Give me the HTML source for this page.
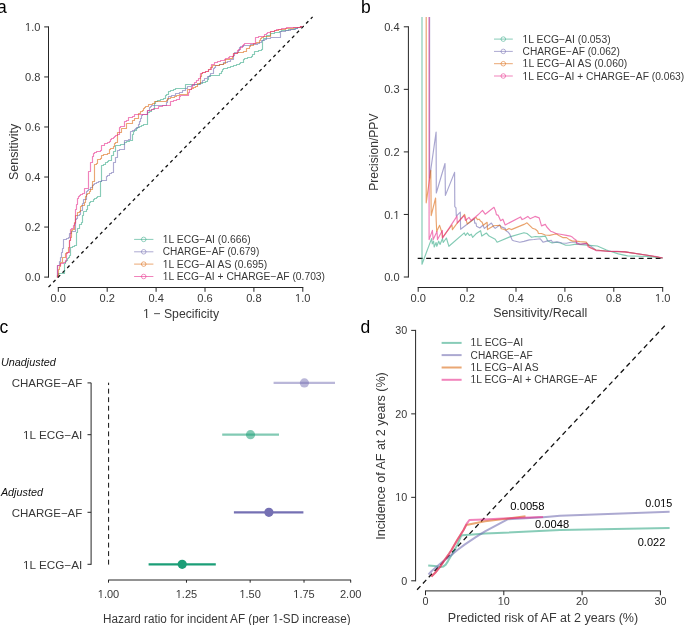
<!DOCTYPE html>
<html><head><meta charset="utf-8"><style>
html,body{margin:0;padding:0;background:#fff;}
body{width:685px;height:625px;overflow:hidden;}
svg{display:block;font-family:"Liberation Sans", sans-serif;will-change:transform;}
</style></head><body>
<svg width="685" height="625" viewBox="0 0 685 625">
<rect width="685" height="625" fill="#fff"/>
<text x="-3.00" y="12.80" font-size="17.5" fill="#000">a</text>
<text x="360.90" y="12.80" font-size="17.5" fill="#000">b</text>
<text x="-0.40" y="333.00" font-size="17.5" fill="#000">c</text>
<text x="360.40" y="332.60" font-size="17.5" fill="#000">d</text>
<line x1="48.50" y1="277.60" x2="48.50" y2="26.40" stroke="#262626" stroke-width="1"/>
<line x1="57.80" y1="287.50" x2="303.30" y2="287.50" stroke="#262626" stroke-width="1"/>
<line x1="44.20" y1="277.10" x2="48.50" y2="277.10" stroke="#262626" stroke-width="1"/>
<text x="40.40" y="281.20" font-size="11" text-anchor="end" textLength="15.4" lengthAdjust="spacingAndGlyphs" fill="#383838">0.0</text>
<line x1="58.30" y1="287.50" x2="58.30" y2="291.80" stroke="#262626" stroke-width="1"/>
<text x="58.30" y="301.80" font-size="11" text-anchor="middle" textLength="15.4" lengthAdjust="spacingAndGlyphs" fill="#383838">0.0</text>
<line x1="44.20" y1="227.06" x2="48.50" y2="227.06" stroke="#262626" stroke-width="1"/>
<text x="40.40" y="231.16" font-size="11" text-anchor="end" textLength="15.4" lengthAdjust="spacingAndGlyphs" fill="#383838">0.2</text>
<line x1="107.20" y1="287.50" x2="107.20" y2="291.80" stroke="#262626" stroke-width="1"/>
<text x="107.20" y="301.80" font-size="11" text-anchor="middle" textLength="15.4" lengthAdjust="spacingAndGlyphs" fill="#383838">0.2</text>
<line x1="44.20" y1="177.02" x2="48.50" y2="177.02" stroke="#262626" stroke-width="1"/>
<text x="40.40" y="181.12" font-size="11" text-anchor="end" textLength="15.4" lengthAdjust="spacingAndGlyphs" fill="#383838">0.4</text>
<line x1="156.10" y1="287.50" x2="156.10" y2="291.80" stroke="#262626" stroke-width="1"/>
<text x="156.10" y="301.80" font-size="11" text-anchor="middle" textLength="15.4" lengthAdjust="spacingAndGlyphs" fill="#383838">0.4</text>
<line x1="44.20" y1="126.98" x2="48.50" y2="126.98" stroke="#262626" stroke-width="1"/>
<text x="40.40" y="131.08" font-size="11" text-anchor="end" textLength="15.4" lengthAdjust="spacingAndGlyphs" fill="#383838">0.6</text>
<line x1="205.00" y1="287.50" x2="205.00" y2="291.80" stroke="#262626" stroke-width="1"/>
<text x="205.00" y="301.80" font-size="11" text-anchor="middle" textLength="15.4" lengthAdjust="spacingAndGlyphs" fill="#383838">0.6</text>
<line x1="44.20" y1="76.94" x2="48.50" y2="76.94" stroke="#262626" stroke-width="1"/>
<text x="40.40" y="81.04" font-size="11" text-anchor="end" textLength="15.4" lengthAdjust="spacingAndGlyphs" fill="#383838">0.8</text>
<line x1="253.90" y1="287.50" x2="253.90" y2="291.80" stroke="#262626" stroke-width="1"/>
<text x="253.90" y="301.80" font-size="11" text-anchor="middle" textLength="15.4" lengthAdjust="spacingAndGlyphs" fill="#383838">0.8</text>
<line x1="44.20" y1="26.90" x2="48.50" y2="26.90" stroke="#262626" stroke-width="1"/>
<text x="40.40" y="31.00" font-size="11" text-anchor="end" textLength="15.4" lengthAdjust="spacingAndGlyphs" fill="#383838">1.0</text>
<line x1="302.80" y1="287.50" x2="302.80" y2="291.80" stroke="#262626" stroke-width="1"/>
<text x="302.80" y="301.80" font-size="11" text-anchor="middle" textLength="15.4" lengthAdjust="spacingAndGlyphs" fill="#383838">1.0</text>
<text x="181.10" y="317.70" font-size="12.3" text-anchor="middle" textLength="76.0" lengthAdjust="spacingAndGlyphs" fill="#383838">1 − Specificity</text>
<text transform="translate(17.90,151.90) rotate(-90)" x="0" y="0" font-size="12.6" text-anchor="middle" textLength="56.2" lengthAdjust="spacingAndGlyphs" fill="#383838">Sensitivity</text>
<line x1="48.50" y1="287.10" x2="312.60" y2="16.90" stroke="#111" stroke-width="1.3" stroke-dasharray="3.3 3.4"/>
<polyline points="57.50,277.50 57.50,275.50 58.50,275.50 58.50,273.50 58.50,273.50 64.50,273.50 64.50,264.50 64.50,263.50 65.50,263.50 65.50,261.50 66.50,261.50 66.50,260.50 67.50,260.50 67.50,258.50 68.50,258.50 68.50,257.50 69.50,257.50 69.50,255.50 70.50,255.50 70.50,252.50 70.50,252.50 70.50,248.50 70.50,248.50 70.50,247.50 72.50,247.50 72.50,246.50 74.50,246.50 74.50,245.50 76.50,245.50 76.50,242.50 76.50,242.50 76.50,240.50 76.50,240.50 76.50,237.50 76.50,237.50 76.50,234.50 76.50,234.50 76.50,232.50 77.50,232.50 77.50,229.50 77.50,229.50 77.50,228.50 79.50,228.50 79.50,225.50 79.50,225.50 79.50,224.50 81.50,224.50 81.50,222.50 81.50,222.50 82.50,222.50 82.50,219.50 82.50,219.50 82.50,215.50 83.50,215.50 83.50,212.50 83.50,212.50 83.50,211.50 86.50,211.50 86.50,209.50 87.50,209.50 87.50,206.50 87.50,206.50 87.50,205.50 89.50,205.50 89.50,202.50 90.50,202.50 90.50,201.50 93.50,201.50 93.50,199.50 94.50,199.50 94.50,198.50 96.50,198.50 96.50,197.50 97.50,197.50 97.50,196.50 100.50,196.50 100.50,193.50 100.50,193.50 100.50,190.50 100.50,190.50 100.50,187.50 100.50,187.50 100.50,185.50 100.50,185.50 100.50,182.50 100.50,182.50 100.50,181.50 101.50,181.50 101.50,168.50 101.50,165.50 103.50,165.50 103.50,164.50 105.50,164.50 105.50,162.50 107.50,162.50 107.50,161.50 108.50,161.50 108.50,160.50 111.50,160.50 111.50,156.50 111.50,156.50 111.50,155.50 113.50,155.50 113.50,152.50 113.50,151.50 115.50,151.50 115.50,149.50 115.50,149.50 115.50,146.50 115.50,146.50 115.50,145.50 116.50,145.50 116.50,145.50 120.50,145.50 120.50,144.50 124.50,144.50 124.50,142.50 124.50,142.50 124.50,142.50 126.50,142.50 126.50,141.50 129.50,141.50 129.50,140.50 132.50,140.50 132.50,136.50 132.50,136.50 132.50,134.50 133.50,134.50 133.50,131.50 134.50,131.50 134.50,130.50 136.50,130.50 136.50,128.50 137.50,128.50 137.50,127.50 139.50,127.50 139.50,126.50 141.50,126.50 141.50,125.50 143.50,125.50 143.50,124.50 144.50,124.50 144.50,124.50 147.50,124.50 147.50,114.50 147.50,112.50 149.50,112.50 149.50,111.50 151.50,111.50 151.50,109.50 154.50,109.50 154.50,106.50 154.50,106.50 154.50,103.50 155.50,103.50 155.50,101.50 157.50,101.50 157.50,100.50 160.50,100.50 160.50,99.50 163.50,99.50 163.50,98.50 165.50,98.50 165.50,95.50 166.50,95.50 166.50,94.50 168.50,94.50 168.50,91.50 170.50,91.50 170.50,90.50 173.50,90.50 173.50,89.50 175.50,89.50 175.50,88.50 178.50,88.50 178.50,88.50 181.50,88.50 181.50,88.50 185.50,88.50 185.50,85.50 185.50,85.50 185.50,84.50 188.50,84.50 199.50,84.50 199.50,83.50 202.50,83.50 202.50,82.50 205.50,82.50 205.50,81.50 207.50,81.50 207.50,79.50 208.50,79.50 208.50,76.50 210.50,76.50 210.50,75.50 210.50,75.50 210.50,75.50 213.50,75.50 213.50,75.50 216.50,75.50 216.50,75.50 219.50,75.50 219.50,73.50 221.50,73.50 221.50,71.50 222.50,71.50 222.50,69.50 223.50,69.50 223.50,68.50 227.50,68.50 227.50,67.50 230.50,67.50 230.50,66.50 233.50,66.50 233.50,65.50 236.50,65.50 236.50,64.50 239.50,64.50 239.50,63.50 240.50,63.50 240.50,62.50 243.50,62.50 243.50,59.50 244.50,59.50 244.50,58.50 247.50,58.50 247.50,57.50 251.50,57.50 251.50,56.50 252.50,56.50 252.50,54.50 254.50,54.50 254.50,51.50 255.50,51.50 255.50,51.50 258.50,51.50 258.50,50.50 261.50,50.50 261.50,49.50 262.50,49.50 262.50,46.50 262.50,46.50 262.50,43.50 262.50,43.50 262.50,40.50 263.50,40.50 263.50,38.50 266.50,38.50 266.50,35.50 270.50,35.50 270.50,33.50 274.50,33.50 274.50,32.50 276.50,32.50 276.50,32.50 279.50,32.50 279.50,31.50 281.50,31.50 281.50,30.50 283.50,30.50 283.50,30.50 286.50,30.50 286.50,30.50 288.50,30.50 288.50,29.50 291.50,29.50 291.50,29.50 294.50,29.50 294.50,28.50 297.50,28.50 297.50,27.50 300.50,27.50 300.50,26.50 302.50,26.50" fill="none" stroke="#1b9e77" stroke-width="1.15" stroke-opacity="0.52" stroke-linejoin="round"/>
<polyline points="57.50,277.50 57.50,266.50 57.50,265.50 59.50,265.50 59.50,261.50 60.50,261.50 60.50,258.50 60.50,258.50 60.50,257.50 61.50,257.50 61.50,255.50 61.50,255.50 61.50,252.50 62.50,252.50 62.50,249.50 62.50,249.50 62.50,248.50 63.50,248.50 63.50,245.50 63.50,245.50 63.50,242.50 63.50,242.50 63.50,239.50 64.50,239.50 64.50,239.50 66.50,239.50 66.50,238.50 68.50,238.50 68.50,237.50 69.50,237.50 69.50,234.50 69.50,234.50 69.50,233.50 71.50,233.50 71.50,231.50 72.50,231.50 72.50,231.50 75.50,231.50 75.50,228.50 75.50,228.50 75.50,225.50 75.50,225.50 75.50,222.50 75.50,222.50 75.50,220.50 75.50,220.50 75.50,219.50 76.50,219.50 76.50,218.50 77.50,218.50 77.50,215.50 79.50,215.50 79.50,214.50 80.50,214.50 80.50,210.50 82.50,210.50 82.50,208.50 82.50,208.50 82.50,206.50 82.50,206.50 82.50,203.50 83.50,203.50 83.50,201.50 83.50,201.50 83.50,199.50 84.50,199.50 84.50,199.50 86.50,199.50 86.50,196.50 86.50,196.50 86.50,193.50 86.50,193.50 86.50,191.50 87.50,191.50 87.50,190.50 88.50,190.50 88.50,189.50 90.50,189.50 90.50,187.50 90.50,187.50 90.50,187.50 92.50,187.50 92.50,185.50 93.50,185.50 93.50,184.50 94.50,184.50 94.50,183.50 96.50,183.50 96.50,182.50 98.50,182.50 98.50,181.50 98.50,181.50 98.50,181.50 101.50,181.50 101.50,180.50 102.50,180.50 106.50,180.50 106.50,176.50 107.50,176.50 107.50,175.50 109.50,175.50 109.50,173.50 111.50,173.50 111.50,172.50 113.50,172.50 113.50,169.50 113.50,169.50 113.50,166.50 113.50,166.50 113.50,163.50 113.50,163.50 113.50,162.50 115.50,162.50 115.50,158.50 115.50,158.50 115.50,157.50 117.50,157.50 117.50,152.50 117.50,150.50 119.50,150.50 119.50,149.50 120.50,149.50 120.50,149.50 124.50,149.50 124.50,146.50 124.50,146.50 124.50,144.50 124.50,144.50 124.50,141.50 124.50,141.50 124.50,140.50 126.50,140.50 126.50,140.50 128.50,140.50 128.50,139.50 130.50,139.50 130.50,133.50 130.50,131.50 132.50,131.50 132.50,130.50 134.50,130.50 134.50,129.50 135.50,129.50 135.50,128.50 136.50,128.50 136.50,127.50 138.50,127.50 138.50,124.50 139.50,124.50 139.50,122.50 139.50,122.50 139.50,121.50 140.50,121.50 140.50,118.50 141.50,118.50 141.50,115.50 141.50,115.50 141.50,115.50 142.50,115.50 142.50,114.50 144.50,114.50 144.50,114.50 147.50,114.50 147.50,111.50 147.50,111.50 147.50,110.50 149.50,110.50 149.50,107.50 150.50,107.50 150.50,106.50 151.50,106.50 151.50,105.50 155.50,105.50 158.50,105.50 158.50,105.50 161.50,105.50 161.50,105.50 164.50,105.50 164.50,105.50 166.50,105.50 166.50,102.50 167.50,102.50 167.50,99.50 168.50,99.50 168.50,97.50 168.50,97.50 168.50,96.50 171.50,96.50 171.50,95.50 175.50,95.50 175.50,93.50 179.50,93.50 179.50,92.50 182.50,92.50 182.50,90.50 185.50,90.50 185.50,88.50 187.50,88.50 187.50,86.50 188.50,86.50 191.50,86.50 191.50,85.50 194.50,85.50 194.50,84.50 196.50,84.50 196.50,84.50 200.50,84.50 200.50,82.50 202.50,82.50 202.50,80.50 204.50,80.50 204.50,78.50 207.50,78.50 207.50,76.50 209.50,76.50 209.50,75.50 210.50,75.50 210.50,73.50 213.50,73.50 213.50,71.50 213.50,71.50 213.50,68.50 214.50,68.50 214.50,67.50 215.50,67.50 215.50,65.50 219.50,65.50 219.50,64.50 223.50,64.50 223.50,62.50 227.50,62.50 227.50,61.50 230.50,61.50 230.50,59.50 233.50,59.50 233.50,57.50 233.50,57.50 233.50,55.50 234.50,55.50 234.50,53.50 234.50,53.50 234.50,52.50 238.50,52.50 238.50,50.50 239.50,50.50 239.50,47.50 240.50,47.50 240.50,46.50 241.50,46.50 241.50,46.50 243.50,46.50 243.50,45.50 246.50,45.50 246.50,45.50 248.50,45.50 248.50,45.50 250.50,45.50 250.50,44.50 252.50,44.50 252.50,44.50 255.50,44.50 255.50,44.50 257.50,44.50 257.50,43.50 259.50,43.50 259.50,42.50 261.50,42.50 261.50,40.50 261.50,40.50 261.50,40.50 264.50,40.50 264.50,39.50 266.50,39.50 266.50,38.50 270.50,38.50 270.50,37.50 273.50,37.50 273.50,37.50 276.50,37.50 276.50,37.50 280.50,37.50 280.50,34.50 280.50,34.50 280.50,32.50 280.50,32.50 280.50,31.50 282.50,31.50 282.50,31.50 285.50,31.50 285.50,30.50 287.50,30.50 287.50,30.50 290.50,30.50 290.50,29.50 293.50,29.50 293.50,29.50 295.50,29.50 295.50,28.50 297.50,28.50 297.50,27.50 300.50,27.50 300.50,26.50 302.50,26.50" fill="none" stroke="#7570b3" stroke-width="1.15" stroke-opacity="0.6" stroke-linejoin="round"/>
<polyline points="57.50,277.50 57.50,275.50 58.50,275.50 58.50,272.50 58.50,272.50 58.50,269.50 59.50,269.50 59.50,268.50 59.50,268.50 59.50,266.50 60.50,266.50 60.50,263.50 60.50,263.50 60.50,262.50 62.50,262.50 62.50,258.50 62.50,258.50 62.50,257.50 65.50,257.50 65.50,255.50 65.50,255.50 65.50,253.50 66.50,253.50 66.50,252.50 68.50,252.50 68.50,249.50 68.50,249.50 68.50,247.50 69.50,247.50 69.50,244.50 69.50,244.50 69.50,242.50 69.50,242.50 69.50,240.50 70.50,240.50 70.50,237.50 71.50,237.50 71.50,234.50 71.50,234.50 71.50,230.50 72.50,230.50 72.50,229.50 74.50,229.50 74.50,225.50 74.50,225.50 74.50,222.50 75.50,222.50 75.50,219.50 75.50,219.50 75.50,216.50 75.50,216.50 75.50,215.50 77.50,215.50 77.50,213.50 77.50,213.50 77.50,212.50 79.50,212.50 79.50,211.50 80.50,211.50 80.50,208.50 80.50,208.50 80.50,206.50 81.50,206.50 81.50,205.50 84.50,205.50 84.50,202.50 85.50,202.50 85.50,199.50 85.50,199.50 85.50,196.50 86.50,196.50 86.50,194.50 87.50,194.50 87.50,193.50 89.50,193.50 89.50,191.50 90.50,191.50 90.50,189.50 92.50,189.50 92.50,187.50 92.50,187.50 92.50,184.50 92.50,184.50 92.50,182.50 92.50,182.50 92.50,181.50 94.50,181.50 94.50,165.50 94.50,164.50 96.50,164.50 96.50,163.50 97.50,163.50 97.50,160.50 97.50,160.50 97.50,159.50 100.50,159.50 100.50,158.50 101.50,158.50 101.50,155.50 103.50,155.50 103.50,154.50 105.50,154.50 105.50,154.50 107.50,154.50 107.50,153.50 109.50,153.50 109.50,149.50 109.50,149.50 110.50,149.50 110.50,148.50 113.50,148.50 113.50,146.50 114.50,146.50 114.50,143.50 115.50,143.50 115.50,142.50 117.50,142.50 117.50,140.50 117.50,140.50 117.50,137.50 117.50,137.50 117.50,135.50 117.50,135.50 117.50,132.50 121.50,132.50 121.50,129.50 121.50,129.50 121.50,128.50 123.50,128.50 123.50,128.50 126.50,128.50 126.50,125.50 126.50,125.50 126.50,123.50 126.50,123.50 126.50,123.50 129.50,123.50 129.50,123.50 132.50,123.50 132.50,121.50 132.50,121.50 132.50,120.50 134.50,120.50 134.50,118.50 134.50,118.50 134.50,118.50 138.50,118.50 138.50,114.50 138.50,113.50 140.50,113.50 140.50,111.50 142.50,111.50 142.50,110.50 143.50,110.50 143.50,108.50 144.50,108.50 144.50,107.50 145.50,107.50 145.50,106.50 148.50,106.50 148.50,104.50 149.50,104.50 149.50,104.50 152.50,104.50 152.50,103.50 154.50,103.50 154.50,101.50 155.50,101.50 155.50,101.50 157.50,101.50 157.50,101.50 160.50,101.50 166.50,101.50 166.50,100.50 167.50,100.50 167.50,98.50 170.50,98.50 170.50,97.50 174.50,97.50 174.50,96.50 176.50,96.50 176.50,95.50 179.50,95.50 179.50,94.50 183.50,94.50 183.50,94.50 187.50,94.50 187.50,90.50 187.50,90.50 187.50,89.50 191.50,89.50 191.50,88.50 193.50,88.50 193.50,87.50 195.50,87.50 195.50,86.50 197.50,86.50 197.50,84.50 197.50,83.50 200.50,83.50 200.50,79.50 200.50,79.50 200.50,76.50 201.50,76.50 201.50,73.50 202.50,73.50 202.50,72.50 205.50,72.50 205.50,71.50 208.50,71.50 208.50,69.50 210.50,69.50 210.50,67.50 212.50,67.50 212.50,65.50 216.50,65.50 216.50,65.50 219.50,65.50 219.50,64.50 223.50,64.50 223.50,63.50 225.50,63.50 225.50,59.50 229.50,59.50 229.50,58.50 232.50,58.50 232.50,56.50 233.50,56.50 233.50,53.50 234.50,53.50 234.50,53.50 237.50,53.50 237.50,52.50 239.50,52.50 239.50,52.50 243.50,52.50 243.50,51.50 246.50,51.50 246.50,48.50 246.50,48.50 246.50,48.50 249.50,48.50 249.50,46.50 250.50,46.50 250.50,45.50 253.50,45.50 253.50,43.50 256.50,43.50 256.50,42.50 259.50,42.50 259.50,40.50 260.50,40.50 260.50,38.50 261.50,38.50 261.50,37.50 263.50,37.50 263.50,36.50 266.50,36.50 266.50,36.50 270.50,36.50 270.50,33.50 270.50,33.50 270.50,31.50 274.50,31.50 274.50,30.50 278.50,30.50 278.50,29.50 281.50,29.50 281.50,29.50 285.50,29.50 285.50,28.50 287.50,28.50 287.50,28.50 290.50,28.50 290.50,28.50 293.50,28.50 293.50,27.50 295.50,27.50 295.50,27.50 297.50,27.50 297.50,27.50 300.50,27.50 300.50,26.50 302.50,26.50" fill="none" stroke="#d95f02" stroke-width="1.15" stroke-opacity="0.55" stroke-linejoin="round"/>
<polyline points="57.50,277.50 57.50,266.50 57.50,265.50 60.50,265.50 60.50,263.50 63.50,263.50 63.50,262.50 65.50,262.50 65.50,260.50 66.50,260.50 66.50,258.50 66.50,258.50 66.50,256.50 66.50,256.50 66.50,253.50 67.50,253.50 67.50,252.50 69.50,252.50 69.50,249.50 69.50,249.50 69.50,246.50 69.50,246.50 69.50,243.50 69.50,243.50 69.50,240.50 70.50,240.50 70.50,237.50 70.50,237.50 70.50,234.50 70.50,234.50 70.50,232.50 70.50,232.50 70.50,229.50 71.50,229.50 71.50,228.50 73.50,228.50 73.50,225.50 74.50,225.50 74.50,223.50 74.50,223.50 74.50,223.50 75.50,223.50 75.50,220.50 75.50,220.50 75.50,217.50 75.50,217.50 75.50,215.50 75.50,215.50 75.50,212.50 75.50,212.50 75.50,210.50 75.50,210.50 75.50,209.50 76.50,209.50 76.50,207.50 76.50,207.50 76.50,204.50 77.50,204.50 77.50,201.50 77.50,201.50 77.50,199.50 77.50,199.50 77.50,198.50 78.50,198.50 78.50,196.50 79.50,196.50 79.50,195.50 80.50,195.50 80.50,194.50 82.50,194.50 82.50,193.50 84.50,193.50 84.50,189.50 84.50,189.50 84.50,188.50 86.50,188.50 86.50,188.50 88.50,188.50 88.50,185.50 88.50,185.50 88.50,182.50 88.50,182.50 88.50,179.50 88.50,179.50 88.50,176.50 88.50,176.50 88.50,174.50 88.50,174.50 88.50,171.50 88.50,171.50 88.50,171.50 90.50,171.50 90.50,162.50 90.50,162.50 92.50,162.50 92.50,159.50 92.50,159.50 92.50,157.50 92.50,157.50 92.50,156.50 93.50,156.50 93.50,153.50 94.50,153.50 94.50,152.50 96.50,152.50 96.50,151.50 97.50,151.50 97.50,151.50 100.50,151.50 100.50,150.50 101.50,150.50 101.50,147.50 101.50,147.50 101.50,145.50 101.50,145.50 101.50,145.50 104.50,145.50 104.50,143.50 105.50,143.50 105.50,143.50 107.50,143.50 107.50,142.50 109.50,142.50 109.50,141.50 110.50,141.50 110.50,139.50 111.50,139.50 111.50,138.50 113.50,138.50 113.50,137.50 114.50,137.50 114.50,136.50 115.50,136.50 115.50,135.50 117.50,135.50 117.50,134.50 119.50,134.50 119.50,127.50 120.50,127.50 120.50,126.50 124.50,126.50 124.50,122.50 124.50,122.50 124.50,121.50 126.50,121.50 126.50,120.50 128.50,120.50 128.50,117.50 130.50,117.50 130.50,117.50 132.50,117.50 132.50,116.50 134.50,116.50 134.50,114.50 136.50,114.50 136.50,114.50 139.50,114.50 147.50,114.50 147.50,112.50 147.50,112.50 147.50,110.50 151.50,110.50 151.50,109.50 153.50,109.50 153.50,108.50 155.50,108.50 155.50,108.50 158.50,108.50 158.50,106.50 159.50,106.50 159.50,106.50 162.50,106.50 162.50,105.50 164.50,105.50 164.50,105.50 166.50,105.50 166.50,105.50 170.50,105.50 170.50,101.50 170.50,101.50 170.50,101.50 173.50,101.50 173.50,100.50 176.50,100.50 176.50,99.50 179.50,99.50 179.50,96.50 180.50,96.50 180.50,95.50 182.50,95.50 182.50,95.50 185.50,95.50 185.50,95.50 188.50,95.50 188.50,92.50 189.50,92.50 189.50,89.50 191.50,89.50 191.50,87.50 192.50,87.50 192.50,84.50 194.50,84.50 194.50,82.50 196.50,82.50 196.50,80.50 198.50,80.50 198.50,78.50 200.50,78.50 200.50,75.50 200.50,73.50 202.50,73.50 202.50,72.50 205.50,72.50 205.50,71.50 208.50,71.50 208.50,69.50 211.50,69.50 211.50,64.50 211.50,64.50 214.50,64.50 214.50,62.50 217.50,62.50 217.50,61.50 220.50,61.50 220.50,60.50 221.50,60.50 224.50,60.50 224.50,59.50 225.50,59.50 225.50,58.50 228.50,58.50 228.50,57.50 229.50,57.50 229.50,56.50 233.50,56.50 233.50,53.50 234.50,53.50 234.50,53.50 237.50,53.50 237.50,50.50 238.50,50.50 238.50,49.50 240.50,49.50 240.50,47.50 242.50,47.50 242.50,45.50 243.50,45.50 243.50,44.50 244.50,44.50 244.50,43.50 247.50,43.50 247.50,43.50 250.50,43.50 250.50,43.50 252.50,43.50 255.50,43.50 255.50,40.50 255.50,40.50 255.50,38.50 255.50,38.50 255.50,37.50 258.50,37.50 258.50,36.50 261.50,36.50 261.50,36.50 264.50,36.50 264.50,34.50 266.50,34.50 266.50,33.50 267.50,33.50 267.50,32.50 270.50,32.50 270.50,31.50 274.50,31.50 274.50,30.50 276.50,30.50 276.50,29.50 278.50,29.50 278.50,29.50 281.50,29.50 281.50,28.50 283.50,28.50 283.50,28.50 286.50,28.50 286.50,27.50 289.50,27.50 289.50,27.50 293.50,27.50 293.50,27.50 295.50,27.50 295.50,27.50 297.50,27.50 297.50,27.50 300.50,27.50 300.50,26.50 302.50,26.50" fill="none" stroke="#e7298a" stroke-width="1.15" stroke-opacity="0.58" stroke-linejoin="round"/>
<line x1="134.10" y1="239.40" x2="153.40" y2="239.40" stroke="#1b9e77" stroke-width="1.0" stroke-opacity="0.52"/>
<circle cx="143.70" cy="239.40" r="2.3" fill="none" stroke="#1b9e77" stroke-opacity="0.52" stroke-width="0.9"/>
<text x="162.80" y="242.95" font-size="10.0" textLength="87.8" lengthAdjust="spacingAndGlyphs" fill="#383838">1L ECG−AI (0.666)</text>
<line x1="134.10" y1="251.80" x2="153.40" y2="251.80" stroke="#7570b3" stroke-width="1.0" stroke-opacity="0.6"/>
<circle cx="143.70" cy="251.80" r="2.3" fill="none" stroke="#7570b3" stroke-opacity="0.6" stroke-width="0.9"/>
<text x="162.80" y="255.35" font-size="10.0" textLength="96.5" lengthAdjust="spacingAndGlyphs" fill="#383838">CHARGE−AF (0.679)</text>
<line x1="134.10" y1="264.10" x2="153.40" y2="264.10" stroke="#d95f02" stroke-width="1.0" stroke-opacity="0.55"/>
<circle cx="143.70" cy="264.10" r="2.3" fill="none" stroke="#d95f02" stroke-opacity="0.55" stroke-width="0.9"/>
<text x="162.80" y="267.65" font-size="10.0" textLength="104.4" lengthAdjust="spacingAndGlyphs" fill="#383838">1L ECG−AI AS (0.695)</text>
<line x1="134.10" y1="276.50" x2="153.40" y2="276.50" stroke="#e7298a" stroke-width="1.0" stroke-opacity="0.58"/>
<circle cx="143.70" cy="276.50" r="2.3" fill="none" stroke="#e7298a" stroke-opacity="0.58" stroke-width="0.9"/>
<text x="162.80" y="280.05" font-size="10.0" textLength="162.2" lengthAdjust="spacingAndGlyphs" fill="#383838">1L ECG−AI + CHARGE−AF (0.703)</text>
<line x1="408.40" y1="277.50" x2="408.40" y2="26.30" stroke="#262626" stroke-width="1"/>
<line x1="417.70" y1="287.50" x2="663.20" y2="287.50" stroke="#262626" stroke-width="1"/>
<line x1="403.80" y1="277.00" x2="408.40" y2="277.00" stroke="#262626" stroke-width="1"/>
<text x="399.60" y="281.10" font-size="11" text-anchor="end" textLength="15.4" lengthAdjust="spacingAndGlyphs" fill="#383838">0.0</text>
<line x1="403.80" y1="214.45" x2="408.40" y2="214.45" stroke="#262626" stroke-width="1"/>
<text x="399.60" y="218.55" font-size="11" text-anchor="end" textLength="15.4" lengthAdjust="spacingAndGlyphs" fill="#383838">0.1</text>
<line x1="403.80" y1="151.90" x2="408.40" y2="151.90" stroke="#262626" stroke-width="1"/>
<text x="399.60" y="156.00" font-size="11" text-anchor="end" textLength="15.4" lengthAdjust="spacingAndGlyphs" fill="#383838">0.2</text>
<line x1="403.80" y1="89.35" x2="408.40" y2="89.35" stroke="#262626" stroke-width="1"/>
<text x="399.60" y="93.45" font-size="11" text-anchor="end" textLength="15.4" lengthAdjust="spacingAndGlyphs" fill="#383838">0.3</text>
<line x1="403.80" y1="26.80" x2="408.40" y2="26.80" stroke="#262626" stroke-width="1"/>
<text x="399.60" y="30.90" font-size="11" text-anchor="end" textLength="15.4" lengthAdjust="spacingAndGlyphs" fill="#383838">0.4</text>
<line x1="418.20" y1="287.50" x2="418.20" y2="291.80" stroke="#262626" stroke-width="1"/>
<text x="418.20" y="301.60" font-size="11" text-anchor="middle" textLength="15.4" lengthAdjust="spacingAndGlyphs" fill="#383838">0.0</text>
<line x1="467.10" y1="287.50" x2="467.10" y2="291.80" stroke="#262626" stroke-width="1"/>
<text x="467.10" y="301.60" font-size="11" text-anchor="middle" textLength="15.4" lengthAdjust="spacingAndGlyphs" fill="#383838">0.2</text>
<line x1="516.00" y1="287.50" x2="516.00" y2="291.80" stroke="#262626" stroke-width="1"/>
<text x="516.00" y="301.60" font-size="11" text-anchor="middle" textLength="15.4" lengthAdjust="spacingAndGlyphs" fill="#383838">0.4</text>
<line x1="564.90" y1="287.50" x2="564.90" y2="291.80" stroke="#262626" stroke-width="1"/>
<text x="564.90" y="301.60" font-size="11" text-anchor="middle" textLength="15.4" lengthAdjust="spacingAndGlyphs" fill="#383838">0.6</text>
<line x1="613.80" y1="287.50" x2="613.80" y2="291.80" stroke="#262626" stroke-width="1"/>
<text x="613.80" y="301.60" font-size="11" text-anchor="middle" textLength="15.4" lengthAdjust="spacingAndGlyphs" fill="#383838">0.8</text>
<line x1="662.70" y1="287.50" x2="662.70" y2="291.80" stroke="#262626" stroke-width="1"/>
<text x="662.70" y="301.60" font-size="11" text-anchor="middle" textLength="15.4" lengthAdjust="spacingAndGlyphs" fill="#383838">1.0</text>
<text x="540.20" y="316.90" font-size="12.3" text-anchor="middle" textLength="94.1" lengthAdjust="spacingAndGlyphs" fill="#383838">Sensitivity/Recall</text>
<text transform="translate(377.90,152.20) rotate(-90)" x="0" y="0" font-size="12.6" text-anchor="middle" textLength="77.3" lengthAdjust="spacingAndGlyphs" fill="#383838">Precision/PPV</text>
<line x1="417.70" y1="258.30" x2="663.00" y2="258.30" stroke="#111" stroke-width="1.3" stroke-dasharray="4.9 3.6"/>
<polyline points="422.00,17.00 422.00,264.20 431.60,238.60 432.30,243.80 433.60,241.20 434.20,247.00 436.10,242.50 436.80,246.30 438.70,241.20 440.00,244.40 442.50,238.60 443.20,242.50 446.40,238.00 448.90,246.30 464.30,232.90 465.60,235.40 467.50,232.90 469.40,235.40 471.30,234.20 472.60,237.40 476.00,233.80 480.60,230.70 481.80,236.10 486.40,233.00 489.10,236.10 495.20,239.20 497.10,242.20 509.80,236.90 524.00,232.70 527.00,233.50 529.30,235.40 531.60,237.30 535.40,236.50 539.20,236.90 545.30,236.10 546.80,238.80 547.50,240.70 552.10,243.00 556.60,242.20 560.40,243.00 565.80,245.20 569.60,245.20 576.00,244.10 589.50,245.40 597.30,246.00 606.50,250.00 618.40,253.90 627.60,255.90 647.30,256.50 662.60,258.00" fill="none" stroke="#1b9e77" stroke-width="1.15" stroke-opacity="0.55" stroke-linejoin="round"/>
<polyline points="429.60,17.00 429.60,178.00 436.10,132.10 436.30,193.00 445.00,163.50 445.40,195.40 454.60,172.40 454.80,206.60 456.00,207.90 456.30,216.10 460.30,212.20 460.60,229.30 474.30,218.80 474.70,223.10 476.00,223.00 476.50,226.20 479.80,228.00 482.90,225.30 484.40,228.40 491.40,223.00 493.70,226.90 495.20,228.40 499.80,225.00 501.30,226.90 505.20,228.40 506.30,231.10 508.30,232.30 509.80,234.20 512.10,239.90 513.60,240.70 519.80,242.20 524.00,241.40 529.30,239.90 533.90,239.50 540.30,238.80 543.00,242.20 546.80,241.10 551.30,240.30 552.50,242.20 557.40,241.80 562.00,243.00 566.50,243.30 571.10,242.20 576.00,242.20 580.00,244.30 586.80,243.40 596.00,250.00 607.80,251.30 625.00,251.90 647.30,255.20 662.60,258.00" fill="none" stroke="#7570b3" stroke-width="1.15" stroke-opacity="0.63" stroke-linejoin="round"/>
<polyline points="426.20,17.00 426.20,202.80 430.80,170.40 431.20,215.60 435.60,198.00 436.20,220.70 436.70,231.40 439.60,225.30 441.90,232.50 442.40,237.60 452.00,225.00 452.40,229.70 457.20,223.10 464.60,214.40 467.30,224.00 476.00,217.40 477.50,219.60 479.10,219.20 480.60,221.10 482.10,222.30 483.30,225.30 487.10,222.30 487.50,229.60 493.70,225.70 499.80,225.30 501.30,228.80 503.60,229.20 506.00,230.30 509.00,228.40 511.30,229.60 524.00,224.40 527.00,222.80 529.30,225.10 532.40,228.20 535.40,229.30 537.70,231.20 538.40,233.50 541.50,233.50 545.30,235.00 549.80,235.40 554.40,234.20 556.60,233.90 558.90,235.40 562.70,237.60 566.50,237.60 569.60,239.90 572.60,241.10 576.00,241.10 580.00,241.60 586.20,242.10 588.10,244.70 589.50,247.30 596.00,250.00 607.80,251.30 625.00,251.90 647.30,255.20 662.60,258.00" fill="none" stroke="#d95f02" stroke-width="1.15" stroke-opacity="0.5800000000000001" stroke-linejoin="round"/>
<polyline points="429.00,17.00 429.10,239.60 432.40,230.40 433.20,239.60 437.00,231.40 437.50,239.60 442.40,230.40 442.50,238.10 457.00,216.10 457.20,223.10 464.20,215.70 465.50,220.50 469.00,217.40 471.00,220.50 476.00,216.50 478.00,214.80 482.50,210.40 485.20,214.20 494.00,207.30 495.60,211.10 496.40,214.60 498.30,215.40 500.60,220.70 502.90,219.20 505.20,225.00 520.50,216.90 522.10,219.60 524.00,218.70 527.80,216.40 530.10,218.70 535.00,216.40 539.20,217.90 540.30,221.70 541.50,225.90 545.30,224.40 546.80,227.00 550.60,231.20 552.90,232.00 555.90,233.50 560.40,234.20 566.50,235.40 570.30,236.10 572.60,237.30 574.10,238.80 576.00,239.90 576.70,243.60 580.00,244.30 586.80,243.40 588.10,246.70 596.00,250.60 607.80,251.30 617.00,251.30 625.00,251.90 634.10,253.20 647.30,255.20 656.50,256.50 662.60,258.00" fill="none" stroke="#e7298a" stroke-width="1.15" stroke-opacity="0.61" stroke-linejoin="round"/>
<line x1="494.00" y1="39.10" x2="512.80" y2="39.10" stroke="#1b9e77" stroke-width="1.0" stroke-opacity="0.52"/>
<circle cx="503.30" cy="39.10" r="2.3" fill="none" stroke="#1b9e77" stroke-opacity="0.52" stroke-width="0.9"/>
<text x="522.60" y="42.65" font-size="10.0" textLength="88.0" lengthAdjust="spacingAndGlyphs" fill="#383838">1L ECG−AI (0.053)</text>
<line x1="494.00" y1="51.40" x2="512.80" y2="51.40" stroke="#7570b3" stroke-width="1.0" stroke-opacity="0.6"/>
<circle cx="503.30" cy="51.40" r="2.3" fill="none" stroke="#7570b3" stroke-opacity="0.6" stroke-width="0.9"/>
<text x="522.60" y="54.95" font-size="10.0" textLength="97.3" lengthAdjust="spacingAndGlyphs" fill="#383838">CHARGE−AF (0.062)</text>
<line x1="494.00" y1="63.70" x2="512.80" y2="63.70" stroke="#d95f02" stroke-width="1.0" stroke-opacity="0.55"/>
<circle cx="503.30" cy="63.70" r="2.3" fill="none" stroke="#d95f02" stroke-opacity="0.55" stroke-width="0.9"/>
<text x="522.60" y="67.25" font-size="10.0" textLength="104.6" lengthAdjust="spacingAndGlyphs" fill="#383838">1L ECG−AI AS (0.060)</text>
<line x1="494.00" y1="76.00" x2="512.80" y2="76.00" stroke="#e7298a" stroke-width="1.0" stroke-opacity="0.58"/>
<circle cx="503.30" cy="76.00" r="2.3" fill="none" stroke="#e7298a" stroke-opacity="0.58" stroke-width="0.9"/>
<text x="522.60" y="79.55" font-size="10.0" textLength="161.6" lengthAdjust="spacingAndGlyphs" fill="#383838">1L ECG−AI + CHARGE−AF (0.063)</text>
<line x1="91.10" y1="382.80" x2="91.10" y2="564.80" stroke="#262626" stroke-width="1"/>
<line x1="87.50" y1="382.90" x2="91.10" y2="382.90" stroke="#262626" stroke-width="1"/>
<text x="82.30" y="387.10" font-size="11" text-anchor="end" textLength="70.6" lengthAdjust="spacingAndGlyphs" fill="#383838">CHARGE−AF</text>
<line x1="87.50" y1="434.70" x2="91.10" y2="434.70" stroke="#262626" stroke-width="1"/>
<text x="82.30" y="438.90" font-size="11" text-anchor="end" textLength="59.2" lengthAdjust="spacingAndGlyphs" fill="#383838">1L ECG−AI</text>
<line x1="87.50" y1="512.30" x2="91.10" y2="512.30" stroke="#262626" stroke-width="1"/>
<text x="82.30" y="516.50" font-size="11" text-anchor="end" textLength="70.6" lengthAdjust="spacingAndGlyphs" fill="#383838">CHARGE−AF</text>
<line x1="87.50" y1="564.30" x2="91.10" y2="564.30" stroke="#262626" stroke-width="1"/>
<text x="82.30" y="568.50" font-size="11" text-anchor="end" textLength="59.2" lengthAdjust="spacingAndGlyphs" fill="#383838">1L ECG−AI</text>
<text x="0.90" y="366.20" font-size="11" textLength="54.8" lengthAdjust="spacingAndGlyphs" fill="#111" font-style="italic">Unadjusted</text>
<text x="0.90" y="496.40" font-size="11" textLength="42.0" lengthAdjust="spacingAndGlyphs" fill="#111" font-style="italic">Adjusted</text>
<line x1="108.60" y1="564.60" x2="108.60" y2="382.70" stroke="#111" stroke-width="1.0" stroke-dasharray="4.9 3.65"/>
<line x1="108.20" y1="580.00" x2="350.99" y2="580.00" stroke="#262626" stroke-width="1"/>
<line x1="108.50" y1="580.00" x2="108.50" y2="582.70" stroke="#262626" stroke-width="1"/>
<text x="108.50" y="597.50" font-size="11" text-anchor="middle" textLength="21.5" lengthAdjust="spacingAndGlyphs" fill="#383838">1.00</text>
<line x1="186.47" y1="580.00" x2="186.47" y2="582.70" stroke="#262626" stroke-width="1"/>
<text x="186.47" y="597.50" font-size="11" text-anchor="middle" textLength="21.5" lengthAdjust="spacingAndGlyphs" fill="#383838">1.25</text>
<line x1="250.17" y1="580.00" x2="250.17" y2="582.70" stroke="#262626" stroke-width="1"/>
<text x="250.17" y="597.50" font-size="11" text-anchor="middle" textLength="21.5" lengthAdjust="spacingAndGlyphs" fill="#383838">1.50</text>
<line x1="304.03" y1="580.00" x2="304.03" y2="582.70" stroke="#262626" stroke-width="1"/>
<text x="304.03" y="597.50" font-size="11" text-anchor="middle" textLength="21.5" lengthAdjust="spacingAndGlyphs" fill="#383838">1.75</text>
<line x1="350.69" y1="580.00" x2="350.69" y2="582.70" stroke="#262626" stroke-width="1"/>
<text x="350.69" y="597.50" font-size="11" text-anchor="middle" textLength="21.5" lengthAdjust="spacingAndGlyphs" fill="#383838">2.00</text>
<text x="226.80" y="622.80" font-size="12" text-anchor="middle" textLength="247.5" lengthAdjust="spacingAndGlyphs" fill="#383838">Hazard ratio for incident AF (per 1-SD increase)</text>
<line x1="273.60" y1="382.90" x2="335.00" y2="382.90" stroke="#7570b3" stroke-width="2.2" stroke-opacity="0.5"/>
<circle cx="304.40" cy="382.90" r="4.6" fill="#7570b3" fill-opacity="0.5"/>
<line x1="222.20" y1="434.70" x2="279.00" y2="434.70" stroke="#1b9e77" stroke-width="2.2" stroke-opacity="0.55"/>
<circle cx="250.50" cy="434.70" r="4.6" fill="#1b9e77" fill-opacity="0.55"/>
<line x1="233.90" y1="512.30" x2="303.40" y2="512.30" stroke="#7570b3" stroke-width="2.2" stroke-opacity="1.0"/>
<circle cx="268.90" cy="512.30" r="4.6" fill="#7570b3" fill-opacity="1.0"/>
<line x1="148.60" y1="564.30" x2="215.80" y2="564.30" stroke="#1b9e77" stroke-width="2.2" stroke-opacity="1.0"/>
<circle cx="182.20" cy="564.30" r="4.6" fill="#1b9e77" fill-opacity="1.0"/>
<line x1="415.60" y1="581.30" x2="415.60" y2="329.89" stroke="#262626" stroke-width="1"/>
<line x1="425.00" y1="590.90" x2="660.90" y2="590.90" stroke="#262626" stroke-width="1"/>
<line x1="411.20" y1="580.80" x2="415.60" y2="580.80" stroke="#262626" stroke-width="1"/>
<text x="407.20" y="584.60" font-size="11" text-anchor="end" textLength="6.0" lengthAdjust="spacingAndGlyphs" fill="#383838">0</text>
<line x1="425.50" y1="590.90" x2="425.50" y2="595.20" stroke="#262626" stroke-width="1"/>
<text x="425.50" y="605.40" font-size="11" text-anchor="middle" textLength="6.0" lengthAdjust="spacingAndGlyphs" fill="#383838">0</text>
<line x1="411.20" y1="497.33" x2="415.60" y2="497.33" stroke="#262626" stroke-width="1"/>
<text x="407.20" y="501.13" font-size="11" text-anchor="end" textLength="12.0" lengthAdjust="spacingAndGlyphs" fill="#383838">10</text>
<line x1="503.80" y1="590.90" x2="503.80" y2="595.20" stroke="#262626" stroke-width="1"/>
<text x="503.80" y="605.40" font-size="11" text-anchor="middle" textLength="12.0" lengthAdjust="spacingAndGlyphs" fill="#383838">10</text>
<line x1="411.20" y1="413.86" x2="415.60" y2="413.86" stroke="#262626" stroke-width="1"/>
<text x="407.20" y="417.66" font-size="11" text-anchor="end" textLength="12.0" lengthAdjust="spacingAndGlyphs" fill="#383838">20</text>
<line x1="582.10" y1="590.90" x2="582.10" y2="595.20" stroke="#262626" stroke-width="1"/>
<text x="582.10" y="605.40" font-size="11" text-anchor="middle" textLength="12.0" lengthAdjust="spacingAndGlyphs" fill="#383838">20</text>
<line x1="411.20" y1="330.39" x2="415.60" y2="330.39" stroke="#262626" stroke-width="1"/>
<text x="407.20" y="334.19" font-size="11" text-anchor="end" textLength="12.0" lengthAdjust="spacingAndGlyphs" fill="#383838">30</text>
<line x1="660.40" y1="590.90" x2="660.40" y2="595.20" stroke="#262626" stroke-width="1"/>
<text x="660.40" y="605.40" font-size="11" text-anchor="middle" textLength="12.0" lengthAdjust="spacingAndGlyphs" fill="#383838">30</text>
<text x="543.00" y="622.20" font-size="12.0" text-anchor="middle" textLength="190.3" lengthAdjust="spacingAndGlyphs" fill="#383838">Predicted risk of AF at 2 years (%)</text>
<text transform="translate(385.20,456.00) rotate(-90)" x="0" y="0" font-size="12.6" text-anchor="middle" textLength="167.5" lengthAdjust="spacingAndGlyphs" fill="#383838">Incidence of AF at 2 years (%)</text>
<line x1="417.10" y1="589.70" x2="667.00" y2="323.40" stroke="#111" stroke-width="1.3" stroke-dasharray="4.9 3.6"/>
<polyline points="428.20,565.50 434.60,566.10 440.40,566.90 443.40,566.40 445.70,564.60 448.00,561.10 450.40,557.00 452.70,553.50 457.40,544.60 461.00,536.20 462.20,535.20 473.00,534.40 485.00,533.60 560.00,530.10 669.60,527.90" fill="none" stroke="#1b9e77" stroke-width="2.0" stroke-opacity="0.52" stroke-linejoin="round"/>
<polyline points="428.50,574.50 431.70,571.00 436.90,566.40 443.40,561.10 450.40,555.80 457.40,550.00 464.60,544.60 475.40,537.40 485.00,531.40 508.00,519.20 543.10,517.30 560.00,515.70 669.60,511.70" fill="none" stroke="#7570b3" stroke-width="2.0" stroke-opacity="0.6" stroke-linejoin="round"/>
<polyline points="431.40,576.40 435.20,572.80 440.40,566.40 445.10,559.30 449.20,553.50 451.50,550.00 457.40,539.80 463.40,530.20 466.40,524.80 467.60,524.80 485.00,521.20 508.00,518.40 525.50,516.30" fill="none" stroke="#d95f02" stroke-width="2.0" stroke-opacity="0.55" stroke-linejoin="round"/>
<polyline points="431.40,576.60 435.20,572.80 440.40,566.40 445.10,559.30 449.20,553.50 451.50,550.00 457.40,539.80 463.40,530.20 466.40,524.20 469.40,520.00 483.80,519.40 503.40,518.40 543.10,516.90" fill="none" stroke="#e7298a" stroke-width="2.0" stroke-opacity="0.58" stroke-linejoin="round"/>
<line x1="441.60" y1="342.90" x2="461.60" y2="342.90" stroke="#1b9e77" stroke-width="2.0" stroke-opacity="0.52"/>
<text x="470.60" y="346.45" font-size="10.0" textLength="52.5" lengthAdjust="spacingAndGlyphs" fill="#383838">1L ECG−AI</text>
<line x1="441.60" y1="355.10" x2="461.60" y2="355.10" stroke="#7570b3" stroke-width="2.0" stroke-opacity="0.6"/>
<text x="470.60" y="358.65" font-size="10.0" textLength="62.0" lengthAdjust="spacingAndGlyphs" fill="#383838">CHARGE−AF</text>
<line x1="441.60" y1="367.50" x2="461.60" y2="367.50" stroke="#d95f02" stroke-width="2.0" stroke-opacity="0.55"/>
<text x="470.60" y="371.05" font-size="10.0" textLength="68.0" lengthAdjust="spacingAndGlyphs" fill="#383838">1L ECG−AI AS</text>
<line x1="441.60" y1="379.80" x2="461.60" y2="379.80" stroke="#e7298a" stroke-width="2.0" stroke-opacity="0.58"/>
<text x="470.60" y="383.35" font-size="10.0" textLength="126.7" lengthAdjust="spacingAndGlyphs" fill="#383838">1L ECG−AI + CHARGE−AF</text>
<text x="510.30" y="510.40" font-size="11" textLength="34.3" lengthAdjust="spacingAndGlyphs" fill="#000">0.0058</text>
<text x="535.10" y="528.20" font-size="11" textLength="34.0" lengthAdjust="spacingAndGlyphs" fill="#000">0.0048</text>
<text x="645.30" y="507.20" font-size="11" textLength="27.0" lengthAdjust="spacingAndGlyphs" fill="#000">0.015</text>
<text x="637.70" y="545.50" font-size="11" textLength="27.6" lengthAdjust="spacingAndGlyphs" fill="#000">0.022</text>
<g id="f1"><rect x="25.12" y="30.13" width="2.62" height="1.47" fill="#fff"/><rect x="28.82" y="30.13" width="2.28" height="1.47" fill="#fff"/><rect x="295.22" y="300.93" width="2.62" height="1.47" fill="#fff"/><rect x="298.92" y="300.93" width="2.28" height="1.47" fill="#fff"/><rect x="143.24" y="316.73" width="2.90" height="1.57" fill="#fff"/><rect x="147.33" y="316.73" width="2.52" height="1.57" fill="#fff"/><rect x="162.91" y="242.15" width="2.44" height="1.40" fill="#fff"/><rect x="166.36" y="242.15" width="2.13" height="1.40" fill="#fff"/><rect x="162.92" y="266.85" width="2.46" height="1.40" fill="#fff"/><rect x="166.38" y="266.85" width="2.14" height="1.40" fill="#fff"/><rect x="162.91" y="279.25" width="2.43" height="1.40" fill="#fff"/><rect x="166.35" y="279.25" width="2.12" height="1.40" fill="#fff"/><rect x="393.56" y="217.68" width="2.62" height="1.47" fill="#fff"/><rect x="397.26" y="217.68" width="2.28" height="1.47" fill="#fff"/><rect x="655.12" y="300.73" width="2.62" height="1.47" fill="#fff"/><rect x="658.82" y="300.73" width="2.28" height="1.47" fill="#fff"/><rect x="522.72" y="41.85" width="2.45" height="1.40" fill="#fff"/><rect x="526.17" y="41.85" width="2.13" height="1.40" fill="#fff"/><rect x="522.72" y="66.45" width="2.46" height="1.40" fill="#fff"/><rect x="526.19" y="66.45" width="2.14" height="1.40" fill="#fff"/><rect x="522.71" y="78.75" width="2.42" height="1.40" fill="#fff"/><rect x="526.13" y="78.75" width="2.11" height="1.40" fill="#fff"/><rect x="23.23" y="438.03" width="2.77" height="1.47" fill="#fff"/><rect x="27.15" y="438.03" width="2.42" height="1.47" fill="#fff"/><rect x="23.23" y="567.63" width="2.77" height="1.47" fill="#fff"/><rect x="27.15" y="567.63" width="2.42" height="1.47" fill="#fff"/><rect x="97.87" y="596.63" width="2.61" height="1.47" fill="#fff"/><rect x="101.56" y="596.63" width="2.27" height="1.47" fill="#fff"/><rect x="175.84" y="596.63" width="2.61" height="1.47" fill="#fff"/><rect x="179.53" y="596.63" width="2.27" height="1.47" fill="#fff"/><rect x="239.54" y="596.63" width="2.61" height="1.47" fill="#fff"/><rect x="243.23" y="596.63" width="2.27" height="1.47" fill="#fff"/><rect x="293.40" y="596.63" width="2.61" height="1.47" fill="#fff"/><rect x="297.09" y="596.63" width="2.27" height="1.47" fill="#fff"/><rect x="272.52" y="621.85" width="2.78" height="1.55" fill="#fff"/><rect x="276.44" y="621.85" width="2.42" height="1.55" fill="#fff"/><rect x="395.32" y="500.26" width="2.55" height="1.47" fill="#fff"/><rect x="398.92" y="500.26" width="2.22" height="1.47" fill="#fff"/><rect x="497.92" y="604.53" width="2.55" height="1.47" fill="#fff"/><rect x="501.52" y="604.53" width="2.22" height="1.47" fill="#fff"/><rect x="470.72" y="345.65" width="2.46" height="1.40" fill="#fff"/><rect x="474.19" y="345.65" width="2.14" height="1.40" fill="#fff"/><rect x="470.71" y="370.25" width="2.43" height="1.40" fill="#fff"/><rect x="474.15" y="370.25" width="2.12" height="1.40" fill="#fff"/><rect x="470.71" y="382.55" width="2.43" height="1.40" fill="#fff"/><rect x="474.14" y="382.55" width="2.11" height="1.40" fill="#fff"/><rect x="660.41" y="506.33" width="2.56" height="1.47" fill="#fff"/><rect x="664.02" y="506.33" width="2.23" height="1.47" fill="#fff"/></g>
</svg>
</body></html>
